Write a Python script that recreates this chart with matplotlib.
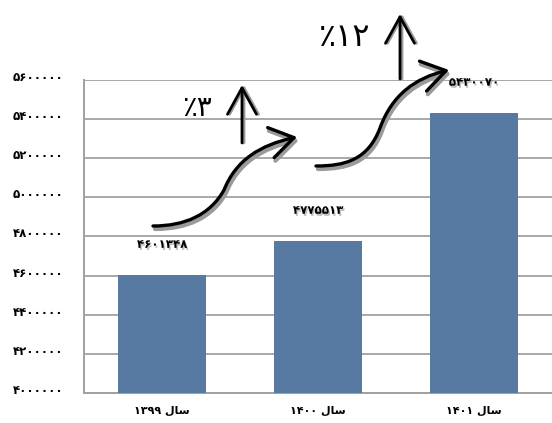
import matplotlib.pyplot as plt
import matplotlib.patheffects as pe
from matplotlib.patches import FancyArrowPatch
from matplotlib.path import Path
from matplotlib.transforms import Affine2D, ScaledTranslation

years = [1399, 1400, 1401]
values = [4601348, 4775513, 5430070]
growth = [3, 12]
y_ticks = list(range(4000000, 5600001, 200000))

FA_DIGITS = str.maketrans('0123456789', '۰۱۲۳۴۵۶۷۸۹')
# "سال" written out in visual order with joined presentation forms
SAL = '\uFEDD\uFE8E\uFEB3'


def fa(n):
    return str(n).translate(FA_DIGITS)


plt.rcParams['font.family'] = ['DejaVu Sans']

W, H = 552, 423
fig = plt.figure(figsize=(W / 100, H / 100), dpi=100)
ax = fig.add_axes([84 / W, 1 - 393 / H, 1 - 84 / W, (393 - 80) / H])

x = list(range(len(years)))
ax.bar(x, values, width=0.57, color='#587aa2', zorder=3)
ax.set_xlim(-0.5, 2.5)
ax.set_ylim(4000000, 5600000)

ax.set_yticks(y_ticks)
ax.set_yticklabels([fa(v) for v in y_ticks], fontsize=8.5, fontweight='bold')
ax.set_xticks(x)
ax.set_xticklabels([fa(y) + ' ' + SAL for y in years], fontsize=8, fontweight='bold')
ax.tick_params(axis='y', length=0, pad=15)
ax.tick_params(axis='x', length=0, pad=9)
for lbl in ax.get_yticklabels():
    lbl.set_transform(lbl.get_transform() + ScaledTranslation(0, 4 / 100, fig.dpi_scale_trans))

ax.grid(axis='y', color='#a8a8a8', linewidth=1.4, zorder=0)
for s in ['top', 'right']:
    ax.spines[s].set_visible(False)
ax.spines['left'].set_color('#a0a0a0')
ax.spines['left'].set_linewidth(1.4)
ax.spines['bottom'].set_color('#a0a0a0')
ax.spines['bottom'].set_linewidth(1.4)

shadow = [pe.SimplePatchShadow(offset=(1, -1.5), alpha=0.25), pe.Normal()]
for xi, v in zip(x, values):
    ax.annotate(fa(v), (xi, v), xytext=(0, 31), textcoords='offset pixels',
                ha='center', va='center', fontsize=8.5, fontweight='bold',
                path_effects=shadow)

# pixel coordinates from the top-left corner of the figure
pix = Affine2D().scale(1 / W, -1 / H).translate(0, 1) + fig.transFigure


def curved_arrow(pts):
    for dx, dy, col, lw in [(2, 3, '#9a9a9a', 3.0), (0, 0, 'black', 2.4)]:
        verts = [(px + dx, py + dy) for px, py in pts]
        codes = [Path.MOVETO, Path.CURVE4, Path.CURVE4, Path.CURVE4,
                 Path.CURVE4, Path.CURVE4, Path.CURVE4]
        arr = FancyArrowPatch(path=Path(verts, codes),
                              arrowstyle='->,head_length=1.0,head_width=0.65',
                              mutation_scale=17, color=col, lw=lw, transform=pix)
        fig.add_artist(arr)


def up_arrow(xp, y0, y1):
    for dx, col in [(2, '#9a9a9a'), (0, 'black')]:
        arr = FancyArrowPatch((xp + dx, y0), (xp + dx, y1),
                              arrowstyle='->,head_length=1.0,head_width=0.55',
                              mutation_scale=19, color=col, lw=2.0,
                              shrinkA=0, shrinkB=0, transform=pix)
        fig.add_artist(arr)


curved_arrow([(153, 226), (185, 226), (210, 215), (224, 190),
              (236, 160), (260, 145), (297, 137)])
curved_arrow([(316, 166), (345, 166), (368, 160), (380, 128),
              (392, 95), (415, 78), (449, 70)])
up_arrow(242, 143, 85)
up_arrow(400, 79, 14)

fig.text(197 / W, 1 - 108 / H, '٪' + fa(growth[0]), fontsize=20,
         ha='center', va='center')
fig.text(345 / W, 1 - 38 / H, '٪' + fa(growth[1]), fontsize=23,
         ha='center', va='center')

fig.savefig('out.png', dpi=100)
